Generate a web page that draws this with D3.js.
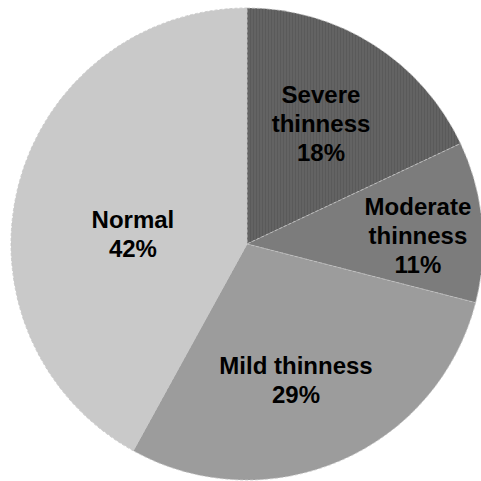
<!DOCTYPE html>
<html>
<head>
<meta charset="utf-8">
<script src="https://cdn.jsdelivr.net/npm/d3@7"></script>
<style>
  html, body { margin: 0; padding: 0; background: #fff; }
  svg { display: block; }
</style>
</head>
<body>
<svg id="chart" width="481" height="481"></svg>
<script>
// Categories and their shares (percent), clockwise from 12 o'clock
const categories = ["Severe thinness", "Moderate thinness", "Mild thinness", "Normal"];
const shares = [18, 11, 29, 42];
// Text lines drawn inside each slice
const labelLines = [
  ["Severe", "thinness", "18%"],
  ["Moderate", "thinness", "11%"],
  ["Mild thinness", "29%"],
  ["Normal", "42%"]
];

// Slice fills
const fills = ["#636363", "#7c7c7c", "#9c9c9c", "#c9c9c9"];
// Label placement: angle (deg, clockwise from top) and fraction of radius
const labelAngle = [31.5, 87.3, 160.2, 274.8];
const labelRadius = [0.60, 0.725, 0.613, 0.485];

const width = 481, height = 481;
const cx = 247, cy = 244, R = 236;
const lineGap = 29;

const svg = d3.select("#chart");

// Fine vertical hatching on the darkest slice
const defs = svg.append("defs");
const pat = defs.append("pattern")
  .attr("id", "stripes")
  .attr("patternUnits", "userSpaceOnUse")
  .attr("width", 3).attr("height", 10);
pat.append("rect").attr("width", 3).attr("height", 10).attr("fill", fills[0]);
pat.append("rect").attr("width", 1).attr("height", 10).attr("fill", "#5a5a5a");

const data = categories.map((c, i) => ({ name: c, value: shares[i], i }));

const pie = d3.pie().value(d => d.value).sort(null);
const arc = d3.arc().innerRadius(0).outerRadius(R);

const g = svg.append("g").attr("transform", `translate(${cx},${cy})`);

g.selectAll("path.slice")
  .data(pie(data))
  .join("path")
  .attr("class", "slice")
  .attr("d", arc)
  .attr("fill", d => d.data.i === 0 ? "url(#stripes)" : fills[d.data.i])
  .attr("stroke", "#c4c4c4")
  .attr("stroke-width", 0.8)
  .attr("stroke-dasharray", "3,2");

const labels = g.selectAll("text.lab")
  .data(pie(data))
  .join("text")
  .attr("class", "lab")
  .attr("text-anchor", "middle")
  .attr("font-family", "'Liberation Sans', Arial, sans-serif")
  .attr("font-weight", "bold")
  .attr("font-size", 24)
  .attr("fill", "#000")
  .attr("transform", d => {
    const a = labelAngle[d.data.i] * Math.PI / 180;
    const r = labelRadius[d.data.i] * R;
    return `translate(${r * Math.sin(a)},${-r * Math.cos(a)})`;
  });

labels.each(function (d) {
  const lines = labelLines[d.data.i];
  const y0 = -((lines.length - 1) * lineGap) / 2 + 8.5;
  d3.select(this).selectAll("tspan")
    .data(lines)
    .join("tspan")
    .attr("x", 0)
    .attr("y", (t, k) => y0 + k * lineGap)
    .text(t => t);
});
</script>
</body>
</html>
